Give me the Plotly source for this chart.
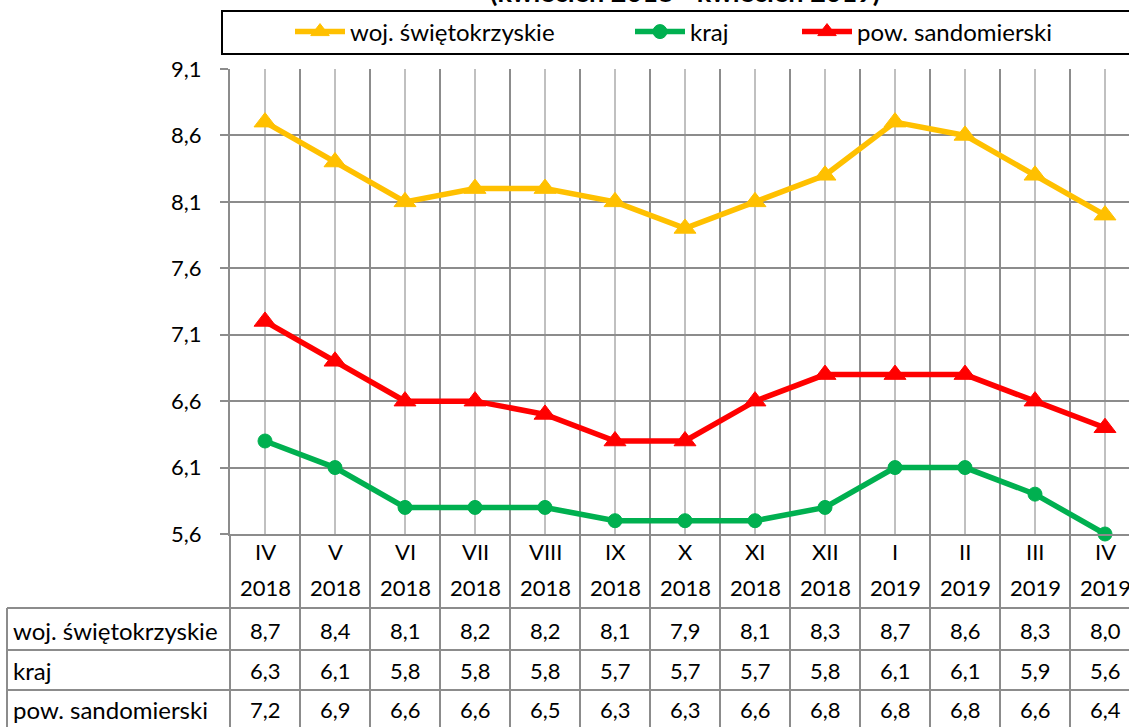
import plotly.graph_objects as go

# ---------------- data ----------------
months = ["IV", "V", "VI", "VII", "VIII", "IX", "X", "XI", "XII", "I", "II", "III", "IV"]
years = ["2018"] * 9 + ["2019"] * 4
woj = [8.7, 8.4, 8.1, 8.2, 8.2, 8.1, 7.9, 8.1, 8.3, 8.7, 8.6, 8.3, 8.0]
kraj = [6.3, 6.1, 5.8, 5.8, 5.8, 5.7, 5.7, 5.7, 5.8, 6.1, 6.1, 5.9, 5.6]
pow_s = [7.2, 6.9, 6.6, 6.6, 6.5, 6.3, 6.3, 6.6, 6.8, 6.8, 6.8, 6.6, 6.4]
series_names = ["woj. świętokrzyskie", "kraj", "pow. sandomierski"]
y_ticks = [5.6, 6.1, 6.6, 7.1, 7.6, 8.1, 8.6, 9.1]
title_text = "(kwiecień 2018 - kwiecień 2019)"

# ---------------- layout constants (pixels) ----------------
W, H = 1129, 727
PL, PT, PB = 230, 69, 534          # plot left, top, bottom
PW = W - PL                         # plot width (clipped on right)
PH = PB - PT
CAT_W = 70
FONT = "Lato, Carlito, Calibri, sans-serif"
DARK = "#8c8c8c"
LIGHT = "#c0c0c0"
YELLOW, GREEN, RED = "#FFC000", "#00B050", "#FF0000"
NUM_SIZE = 22
TXT_SIZE = 24

def px(xp):
    return (xp - PL) / PW

def py(yp):
    return (PB - yp) / PH

n = len(months)
xs = list(range(n))
x_range = [-0.5, -0.5 + PW / CAT_W]

def fmt(v):
    return f"{v:.1f}".replace(".", ",")

fig = go.Figure()
specs = [(woj, YELLOW, "triangle-up", 19, "legend"),
         (kraj, GREEN, "circle", 14, "legend2"),
         (pow_s, RED, "triangle-up", 19, "legend3")]
for name, (vals, col, sym, sz, lg) in zip(series_names, specs):
    fig.add_trace(go.Scatter(
        x=xs, y=vals, name=name, mode="lines+markers",
        line=dict(color=col, width=5.5),
        marker=dict(color=col, symbol=sym, size=sz, line=dict(color=col, width=1)),
        cliponaxis=False, legend=lg, hoverinfo="skip"))

shapes = []
# vertical boundary lines through label area and table
for k in range(n + 1):
    xp = PL + CAT_W * k
    shapes.append(dict(type="line", xref="paper", yref="paper",
                       x0=px(xp), x1=px(xp), y0=py(PB), y1=py(H + 5),
                       line=dict(color=DARK, width=2)))
# table horizontal lines
for yp in [608, 650, 690]:
    shapes.append(dict(type="line", xref="paper", yref="paper",
                       x0=px(7), x1=px(W + 20), y0=py(yp), y1=py(yp),
                       line=dict(color=DARK, width=2)))
# table left border
shapes.append(dict(type="line", xref="paper", yref="paper",
                   x0=px(7), x1=px(7), y0=py(608), y1=py(H + 5),
                   line=dict(color=DARK, width=2)))
# legend box
shapes.append(dict(type="rect", xref="paper", yref="paper",
                   x0=px(222), x1=px(W + 20), y0=py(11), y1=py(54),
                   line=dict(color="black", width=2), fillcolor="rgba(0,0,0,0)"))

ann = []
nf = dict(family=FONT, size=NUM_SIZE, color="black")
tf = dict(family=FONT, size=TXT_SIZE, color="black")
for i in range(n):
    ann.append(dict(x=i, xref="x", y=py(551), yref="paper", text=months[i],
                    showarrow=False, font=nf, xanchor="center", yanchor="middle"))
    ann.append(dict(x=i, xref="x", y=py(587), yref="paper", text=years[i],
                    showarrow=False, font=nf, xanchor="center", yanchor="middle"))
row_y = [630, 670, 709]
for name, vals, ry in zip(series_names, [woj, kraj, pow_s], row_y):
    ann.append(dict(x=px(11), xref="paper", y=py(ry), yref="paper", text=name,
                    showarrow=False, font=tf, xanchor="left", yanchor="middle"))
    for i, v in enumerate(vals):
        ann.append(dict(x=i, xref="x", y=py(ry), yref="paper", text=fmt(v),
                        showarrow=False, font=nf, xanchor="center", yanchor="middle"))
ann.append(dict(x=px(685), xref="paper", y=py(-9), yref="paper", text="<b>" + title_text + "</b>",
                showarrow=False, font=dict(family=FONT, size=27, color="black"),
                xanchor="center", yanchor="middle"))

leg_common = dict(orientation="h", bgcolor="rgba(0,0,0,0)", borderwidth=0,
                  font=dict(family=FONT, size=TXT_SIZE, color="black"),
                  xanchor="left", yanchor="middle", itemwidth=50)

fig.update_layout(
    width=W, height=H,
    margin=dict(l=PL, r=0, t=PT, b=H - PB, pad=0),
    paper_bgcolor="white", plot_bgcolor="white",
    font=dict(family=FONT, size=NUM_SIZE, color="black"),
    showlegend=True,
    legend=dict(x=px(290), y=py(32), **leg_common),
    legend2=dict(x=px(630), y=py(32), **leg_common),
    legend3=dict(x=px(797), y=py(32), **leg_common),
    xaxis=dict(range=x_range, tickmode="array", tickvals=xs, showticklabels=False,
               ticks="", showgrid=True, gridcolor=LIGHT, gridwidth=2, zeroline=False,
               showline=True, linecolor=DARK, linewidth=2,
               minor=dict(tickmode="array", tickvals=[k - 0.5 for k in range(n + 1)],
                          showgrid=True, gridcolor=DARK, gridwidth=2, ticks="")),
    yaxis=dict(range=[y_ticks[0], y_ticks[-1]], tickmode="array", tickvals=y_ticks,
               ticktext=[fmt(v) for v in y_ticks], showgrid=True, gridcolor=DARK,
               gridwidth=2, zeroline=False, showline=True, linecolor=DARK, linewidth=2,
               ticks="outside", ticklen=8, tickwidth=2, tickcolor=DARK,
               ticklabelstandoff=14, tickfont=nf),
    shapes=shapes, annotations=ann,
)

fig.write_html("out.html", config={"displayModeBar": False, "staticPlot": True},
               post_script="document.body.style.margin='0';document.body.style.overflow='hidden';")
